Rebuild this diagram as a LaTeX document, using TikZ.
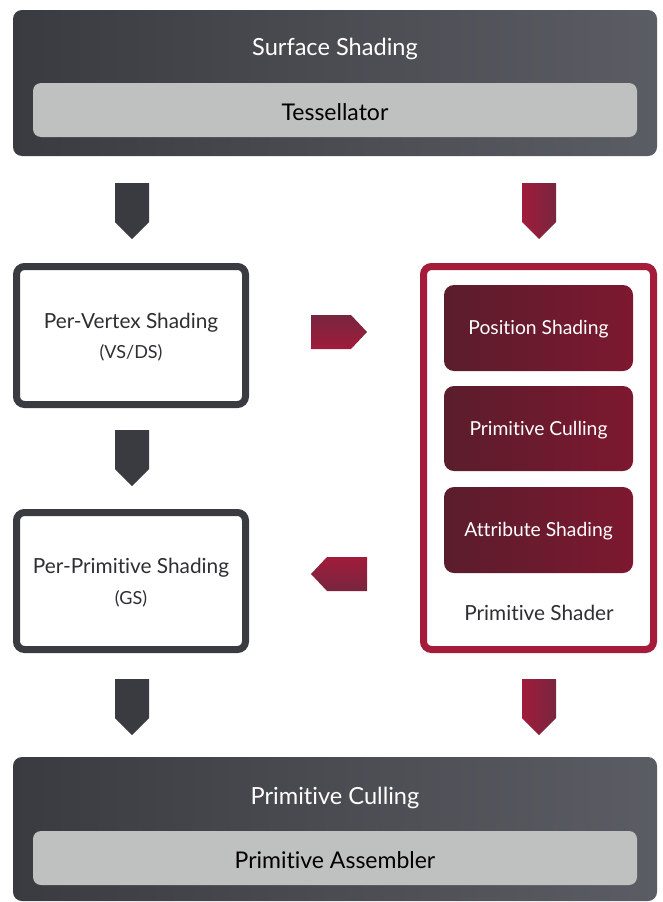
\documentclass[tikz,border=0pt]{standalone}
\usepackage{fontspec}
\setmainfont{Lato}[RawFeature={-liga;-dlig}]
\definecolor{darkA}{HTML}{3A3B40}
\definecolor{darkB}{HTML}{5B5D64}
\definecolor{lightg}{HTML}{BFC0C0}
\definecolor{redb}{HTML}{A51C3B}
\definecolor{redA}{HTML}{5A1D2C}
\definecolor{redB}{HTML}{7D1830}
\definecolor{arrA}{HTML}{A01C3A}
\definecolor{arrB}{HTML}{782540}
\definecolor{txt}{HTML}{2E2F33}
\begin{document}
\begin{tikzpicture}[x=1pt,y=-1pt,
  base/.style={rectangle, inner sep=0pt, outer sep=0pt, anchor=north west},
  panel/.style={base, rounded corners=9pt, left color=darkA, right color=darkB},
  inset/.style={base, rounded corners=8pt, fill=lightg},
  greybox/.style={base, rounded corners=8pt, draw=darkA, line width=7pt, fill=white},
  redbox/.style={base, rounded corners=8pt, draw=redb, line width=7pt, fill=white},
  stagebox/.style={base, rounded corners=10pt, left color=redA, right color=redB},
  wtitle/.style={text=white, font=\fontsize{23.6}{28}\selectfont},
  dtitle/.style={text=black, font=\fontsize{23}{27}\selectfont},
  btitle/.style={text=txt, font=\fontsize{20.8}{25}\selectfont},
  bsub/.style={text=txt, font=\fontsize{18}{22}\selectfont},
  stitle/.style={text=white, font=\fontsize{19.3}{23}\selectfont},
  darkarrow/.style={fill=darkA},
  redvarrow/.style={left color=arrA, right color=arrB},
]
\useasboundingbox (0,0) rectangle (662,902);

% top panel
\node[panel, minimum width=644pt, minimum height=146pt] (top) at (13,10) {};
\node[inset, minimum width=604pt, minimum height=54pt] (tess) at (33,83) {};
\node[wtitle] (surf) at (335,48.5) {Surface Shading};
\node[dtitle] (tessl) at (335,112) {Tessellator};

% bottom panel
\node[panel, minimum width=644pt, minimum height=144pt] (bot) at (13,757) {};
\node[inset, minimum width=604pt, minimum height=54pt] (asm) at (33,831) {};
\node[wtitle] (pcull) at (335,797.5) {Primitive Culling};
\node[dtitle] (asml) at (335,860) {Primitive Assembler};

% left boxes
\node[greybox, minimum width=229pt, minimum height=138pt] (pv) at (16.5,266.5) {};
\node[btitle] (pvt) at (131,322.5) {Per-Vertex Shading};
\node[bsub] (pvs) at (131,353) {(VS/DS)};
\node[greybox, minimum width=229pt, minimum height=137pt] (pp) at (16.5,512.5) {};
\node[btitle] (ppt) at (131,567.5) {Per-Primitive Shading};
\node[bsub] (pps) at (131,599) {(GS)};

% primitive shader
\node[redbox, minimum width=230pt, minimum height=383pt] (ps) at (423.5,266.5) {};
\node[stagebox, minimum width=189pt, minimum height=86pt] (s1) at (444,285) {};
\node[stagebox, minimum width=189pt, minimum height=85pt] (s2) at (444,386) {};
\node[stagebox, minimum width=189pt, minimum height=86pt] (s3) at (444,487) {};
\node[stitle] (s1t) at ([yshift=-1.5pt]s1.center) {Position Shading};
\node[stitle] (s2t) at ([yshift=-1.5pt]s2.center) {Primitive Culling};
\node[stitle] (s3t) at ([yshift=-1.5pt]s3.center) {Attribute Shading};
\node[btitle] (pst) at (539,612.5) {Primitive Shader};

% block arrows
\coordinate (a1) at (132,183);
\coordinate (a2) at (132,430);
\coordinate (a3) at (132,679);
\coordinate (a4) at (539,183);
\coordinate (a5) at (539,679);
\foreach \c in {a1,a2,a3}
  \path[darkarrow] (\c) ++(-17,0) -- ++(34,0) -- ++(0,39) -- ++(-17,17) -- ++(-17,-17) -- cycle;
\foreach \c in {a4,a5}
  \path[redvarrow] (\c) ++(-17,0) -- ++(34,0) -- ++(0,39) -- ++(-17,17) -- ++(-17,-17) -- cycle;
\coordinate (h1) at (311,315);
\coordinate (h2) at (367,557);
\path[top color=arrB, bottom color=arrA] (h1) -- ++(40,0) -- ++(16,17) -- ++(-16,17) -- ++(-40,0) -- cycle;
\path[top color=arrA, bottom color=arrB] (h2) -- ++(-40,0) -- ++(-16,17) -- ++(16,17) -- ++(40,0) -- cycle;
\end{tikzpicture}
\end{document}
